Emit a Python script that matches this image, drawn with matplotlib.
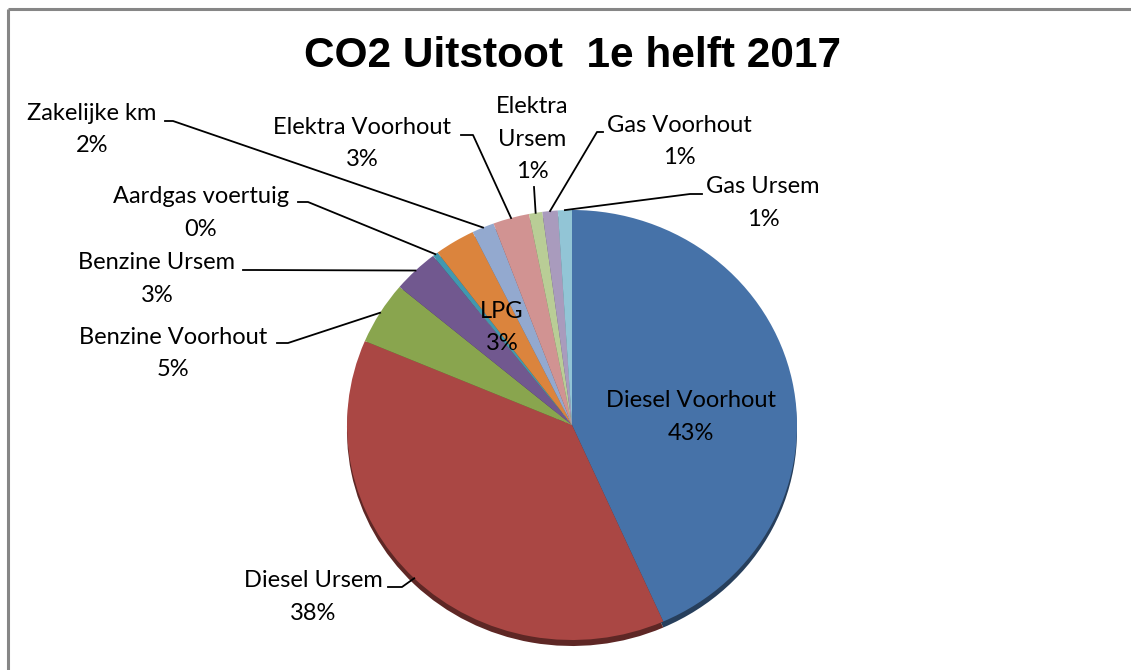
import numpy as np
import matplotlib
matplotlib.use("Agg")
import matplotlib.pyplot as plt
from matplotlib.colors import to_rgb

# data
categories = ["Diesel Voorhout", "Diesel Ursem", "Benzine Voorhout", "Benzine Ursem",
              "Aardgas voertuig", "LPG", "Zakelijke km", "Elektra Voorhout",
              "Elektra\nUrsem", "Gas Voorhout", "Gas Ursem"]
shares = [43.2, 37.9, 4.7, 3.3, 0.4, 2.9, 1.6, 2.6, 0.95, 1.1, 1.0]
colors = ["#4672a8", "#aa4744", "#89a54e", "#71588f", "#4198af", "#db843d",
          "#93a9cf", "#d19392", "#b9cd96", "#a99bbd", "#92c5d6"]

# label layout in pixels: text centre x, first baseline y, leader start, leader elbow
label_x = [691, 313, 173, 157, 201, 502, 92, 362, 532, 679, 763]
label_y = [407, 587, 344, 269, 203, 318, 120, 134, 113, 132, 193]
leader_start = [None, (388, 587), (277, 343), (243, 270), (298, 202), None,
                (165, 121), (461, 135), (534, 187), (603, 132), (702, 194)]
leader_elbow = [None, (402, 587), (288, 343), (255, 270), (308, 202), None,
                (173, 121), (473, 135), (534, 187), (597, 132), (690, 194)]

W, H = 1131, 670
cx, cy, rx, ry = 572, 425, 225, 215
font = "Lato"

fig = plt.figure(figsize=(W / 100, H / 100), dpi=100)

# pie with a darker copy shifted down for the 3D rim
pie_ax = fig.add_axes([(cx - rx) / W, 1 - (cy + ry) / H, 2 * rx / W, 2 * ry / H])
rim = [tuple(c * 0.55 for c in to_rgb(col)) for col in colors]
rim_wedges, _ = pie_ax.pie(shares, colors=rim, startangle=90, counterclock=False,
                           center=(0, -6 / ry), wedgeprops=dict(linewidth=0))
wedges, _ = pie_ax.pie(shares, colors=colors, startangle=90, counterclock=False,
                       wedgeprops=dict(linewidth=0))
for p in rim_wedges + wedges:
    p.set_clip_on(False)
pie_ax.set_aspect("auto")
pie_ax.set_xlim(-1, 1)
pie_ax.set_ylim(-1, 1)
pie_ax.axis("off")

# overlay in pixel coordinates for labels, leaders and frame
ov = fig.add_axes([0, 0, 1, 1])
ov.set_xlim(0, W)
ov.set_ylim(H, 0)
ov.axis("off")
ov.patch.set_alpha(0)

ov.plot([8, 8], [H, 9], color="#868686", lw=2.2, solid_capstyle="butt")
ov.plot([8, W], [9, 9], color="#868686", lw=2.2, solid_capstyle="butt")

ov.text(573, 67, "CO2 Uitstoot  1e helft 2017", ha="center", va="baseline",
        fontsize=30.5, fontweight="bold", family="Liberation Sans")

total = sum(shares)
fr = np.array(shares) / total
mids = (np.cumsum(fr) - fr / 2) * 2 * np.pi
tip_x = cx + rx * np.sin(mids)
tip_y = cy - ry * np.cos(mids)

for i, name in enumerate(categories):
    lines = name.split("\n") + [f"{100 * fr[i]:.0f}%"]
    for k, line in enumerate(lines):
        ov.text(label_x[i], label_y[i] + 32.5 * k, line, ha="center", va="baseline",
                fontsize=17, family=font, color="black")
    if leader_start[i] is not None:
        xs = [leader_start[i][0], leader_elbow[i][0], tip_x[i]]
        ys = [leader_start[i][1], leader_elbow[i][1], tip_y[i]]
        ov.plot(xs, ys, color="black", lw=1.3)

fig.savefig("out.png", dpi=100, facecolor="white")
